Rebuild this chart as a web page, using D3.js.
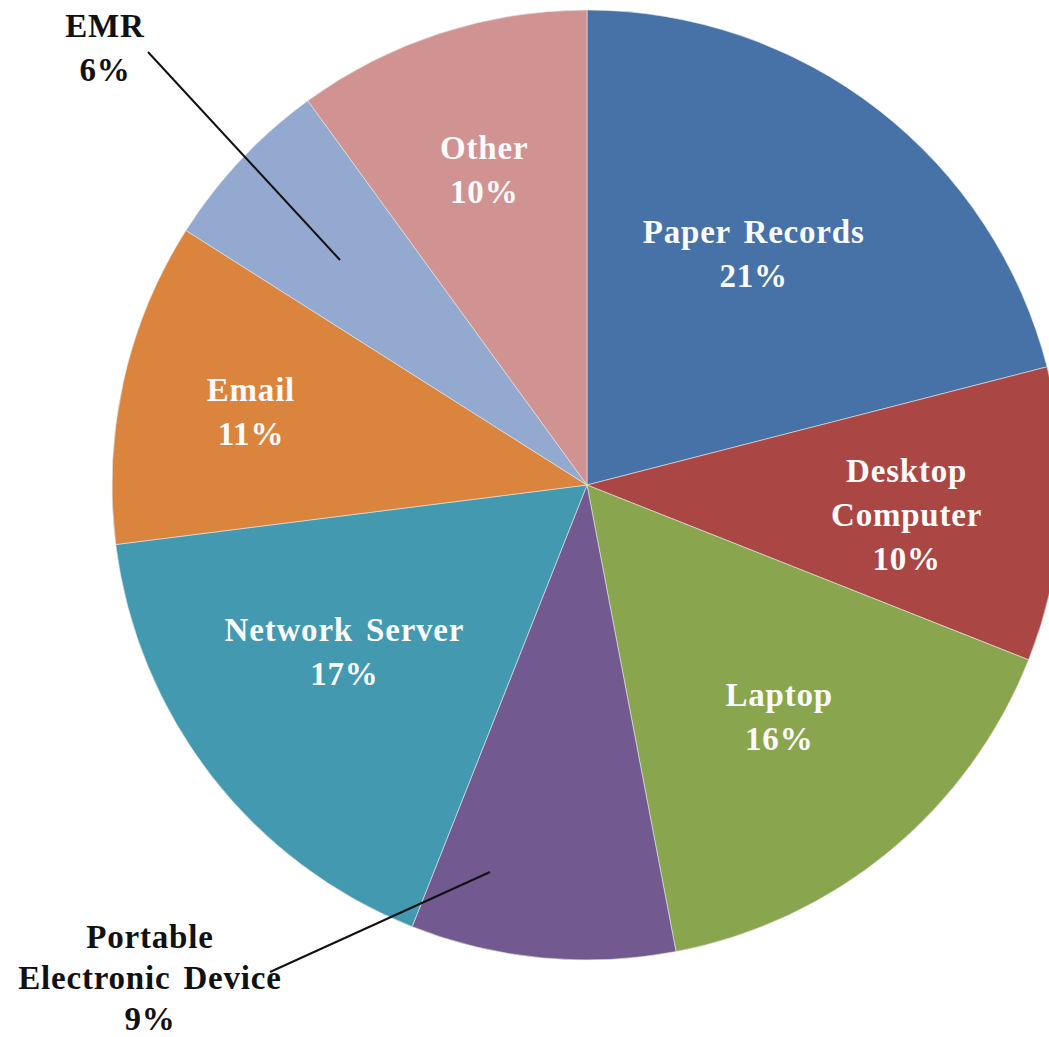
<!DOCTYPE html>
<html><head><meta charset="utf-8">
<script src="https://cdn.jsdelivr.net/npm/d3@7"></script>
<style>html,body{margin:0;padding:0;background:#fff;overflow:hidden}</style>
</head><body>
<svg id="chart" width="1049" height="1037"></svg>
<script>
const categories = ["Paper Records","Desktop Computer","Laptop","Portable Electronic Device","Network Server","Email","EMR","Other"];
const values = [21,10,16,9,17,11,6,10];
const labelLines = [["Paper Records","21%"],["Desktop","Computer","10%"],["Laptop","16%"],["Portable","Electronic Device","9%"],["Network Server","17%"],["Email","11%"],["EMR","6%"],["Other","10%"]];
const colors = ["#4672A8","#AA4643","#89A54E","#725990","#4299B0","#DB843D","#93A9D0","#D19392"];

// label placement (layout config)
const labelRadiusFactor = [0.60,0.67,0.635,null,0.625,0.725,null,0.70];
const labelNudge = [[-8,-6],[2,10],[0,0],null,[-8,-15],[0,2],null,[0,1]];
const outside = {
  3: {text:[150,937], lh:41, lineFrom:[270,972], lineTo:[490,872]},
  6: {text:[105,26], lh:44, lineFrom:[148,52], lineTo:[340,260]}
};

const W=1049,H=1037,cx=587,cy=485,R=475;
const svg=d3.select("#chart");
const g=svg.append("g").attr("transform",`translate(${cx},${cy})`);
const pie=d3.pie().sort(null).value(d=>d)(values);
const arc=d3.arc().innerRadius(0).outerRadius(R);
g.selectAll("path").data(pie).join("path")
  .attr("d",arc).attr("fill",(d,i)=>colors[i])
  .attr("stroke","#e8e8e8").attr("stroke-width",0.6);

const font="'Liberation Serif','Times New Roman',serif";
const lh=44, fs=33, ls=0.8, ws=4;
pie.forEach((d,i)=>{
  if(outside[i]){
    const o=outside[i];
    svg.append("line").attr("x1",o.lineFrom[0]).attr("y1",o.lineFrom[1])
      .attr("x2",o.lineTo[0]).attr("y2",o.lineTo[1])
      .attr("stroke","#111").attr("stroke-width",2);
    const t=svg.append("text").attr("x",o.text[0]).attr("y",o.text[1])
      .attr("text-anchor","middle").attr("font-family",font).attr("font-weight","bold")
      .attr("font-size",fs).attr("letter-spacing",ls).attr("word-spacing",ws).attr("fill","#111");
    labelLines[i].forEach((s,k)=>t.append("tspan").attr("x",o.text[0]).attr("y",o.text[1]+k*o.lh).attr("dominant-baseline","central").text(s));
  } else {
    const r=R*labelRadiusFactor[i];
    const la=d3.arc().innerRadius(r).outerRadius(r);
    const [x0,y0]=la.centroid(d);
    const x=x0+labelNudge[i][0], y=y0+labelNudge[i][1];
    const n=labelLines[i].length;
    const t=g.append("text").attr("text-anchor","middle").attr("font-family",font)
      .attr("font-weight","bold").attr("font-size",fs).attr("letter-spacing",ls).attr("word-spacing",ws).attr("fill","#fbfbfb");
    labelLines[i].forEach((s,k)=>t.append("tspan").attr("x",x).attr("y",y+(k-(n-1)/2)*lh)
      .attr("dominant-baseline","central").text(s));
  }
});
</script>
</body></html>
